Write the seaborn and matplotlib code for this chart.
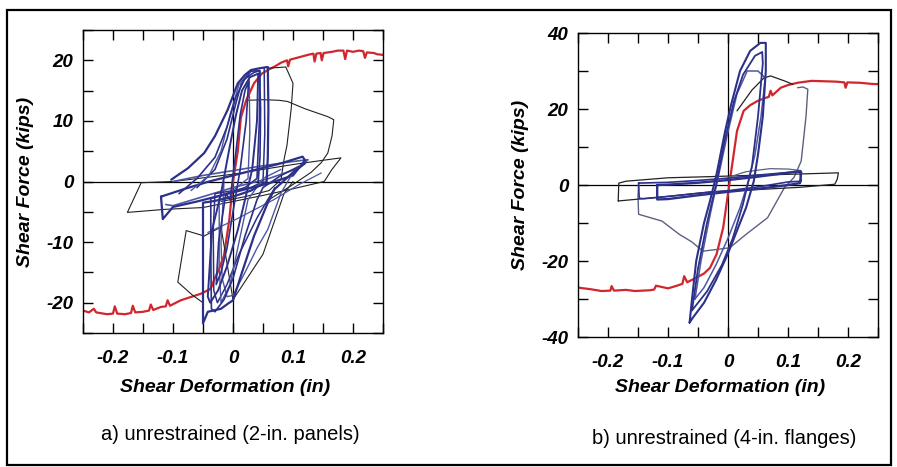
import numpy as np
import pandas as pd
import seaborn as sns
import matplotlib.pyplot as plt
from matplotlib.patches import Rectangle

# ---- panel a: unrestrained (2-in. panels) ----
red_a_x = [-0.25, -0.24, -0.232, -0.228, -0.21, -0.2, -0.197, -0.193, -0.18, -0.17, -0.167, -0.163,
           -0.15, -0.14, -0.137, -0.133, -0.12, -0.112, -0.109, -0.105, -0.087, -0.053, -0.037, -0.031,
           -0.023, -0.015, -0.006, 0.0, 0.008, 0.013, 0.022, 0.035, 0.048, 0.06, 0.07, 0.08, 0.09, 0.092,
           0.095, 0.11, 0.125, 0.134, 0.136, 0.139, 0.146, 0.148, 0.151, 0.165, 0.175, 0.184, 0.187, 0.19,
           0.2, 0.21, 0.217, 0.22, 0.223, 0.235, 0.24, 0.25]
red_a_y = [-21.3, -21.6, -21.0, -21.6, -21.9, -21.8, -20.6, -21.8, -21.9, -21.7, -20.5, -21.6,
           -21.5, -21.3, -20.3, -21.2, -20.7, -20.6, -19.6, -20.5, -19.6, -18.5, -17.7, -16.1,
           -14.4, -12.2, -6.2, 0.0, 5.0, 10.5, 13.4, 16.2, 17.8, 18.5, 19.0, 19.6, 20.0, 19.0,
           20.1, 20.5, 20.9, 21.1, 19.8, 21.1, 21.2, 20.0, 21.2, 21.4, 21.6, 21.6, 20.2, 21.6,
           21.4, 21.6, 21.5, 20.4, 21.3, 21.2, 21.0, 20.9]

a_loop1_x = [-0.005, 0.005, 0.012, 0.02, 0.026, 0.022, 0.012, 0.0, -0.01, -0.02, -0.028, -0.024, -0.012, -0.005]
a_loop1_y = [-3, 5, 11, 15, 16.5, 10, 2, -5, -11, -15, -17, -10, -2, -3]

a_loop2_x = [-0.02, -0.005, 0.005, 0.015, 0.028, 0.042, 0.04, 0.032, 0.02, 0.008, -0.01, -0.025, -0.038, -0.042, -0.035, -0.02]
a_loop2_y = [-2, 6, 11, 15, 17.2, 17.8, 10, 2, -3, -8, -14, -18, -20, -19, -8, -2]

a_loop3_x = [-0.103, -0.075, -0.048, -0.03, -0.009, 0.008, 0.02, 0.03, 0.045, 0.058, 0.059, 0.058, 0.056,
             0.03, 0.0, -0.03, -0.05, -0.05, -0.05, -0.05, -0.042, -0.02, -0.009, 0.0, 0.015, 0.035,
             0.058, 0.069, 0.1, 0.12]
a_loop3_y = [0.3, 2.2, 4.7, 7.5, 11.8, 16.2, 17.6, 18.4, 18.7, 18.9, 12, 4, 0,
             -1.5, -2.5, -3.2, -3.5, -10, -18, -23.4, -21.5, -21, -20.2, -19.6, -15, -9,
             -3.5, -1.3, 1.5, 3]

a_loop4_x = [-0.09, -0.06, -0.03, -0.01, 0.005, 0.02, 0.035, 0.045, 0.044, 0.04, 0.02, -0.01, -0.037,
             -0.037, -0.036, -0.03, -0.015, 0.0, 0.02, 0.04, 0.05, 0.08, 0.11]
a_loop4_y = [-2, 0.5, 4, 9, 14, 17, 18, 18.3, 10, 0.5, -1, -2, -2.8,
             -12, -21, -21.5, -19.5, -16, -9, -3, -1, 1, 2.5]

a_loop5_x = [-0.07, -0.04, -0.02, -0.005, 0.01, 0.027, 0.028, 0.025, 0.0, -0.023, -0.023, -0.02,
             -0.005, 0.01, 0.025, 0.05, 0.08]
a_loop5_y = [-1.5, 1, 5, 11, 16, 17.5, 8, 0.5, -1.5, -2.5, -14, -20, -17, -10, -3, 0.5, 2]

a_loop6_x = [-0.015, -0.02, -0.018, -0.01, 0.0, 0.02, 0.04, 0.058, 0.08, 0.1]
a_loop6_y = [0.0, -10.0, -16.0, -19.0, -18.8, -15.0, -11.0, -7.9, -1.9, 1.5]

a_loop7_x = [-0.06, -0.03, -0.01, 0.005, 0.015, 0.03, 0.044, 0.046, 0.045, 0.042]
a_loop7_y = [-1.0, 2.0, 7.0, 13.0, 16.5, 18.2, 18.3, 12.0, 4.0, 0.0]

a_loop8_x = [0.052, 0.053, 0.05, 0.03, -0.03, -0.033, -0.032, -0.026, -0.01, 0.01, 0.04, 0.07]
a_loop8_y = [18.8, 8.0, 0.0, -1.0, -2.0, -8.0, -18.0, -20.0, -17.0, -12.0, -6.0, -1.0]

a_band_x = [-0.12, -0.08, -0.04, 0.0, 0.04, 0.08, 0.116, 0.12, 0.1, 0.06, 0.02, -0.02, -0.06, -0.1, -0.117, -0.12]
a_band_y = [-2.5, -1.2, 0.0, 1.0, 2.0, 3.0, 4.1, 3.5, 1.0, -0.3, -1.3, -2.3, -3.3, -4.2, -6.2, -2.5]

a_band2_x = [-0.1, -0.05, 0.0, 0.05, 0.1, 0.125, 0.11, 0.06, 0.0, -0.06, -0.1, -0.112]
a_band2_y = [0.0, 1.0, 1.8, 2.6, 3.3, 3.6, 2.2, 0.5, -1.0, -2.8, -4.0, -3.8]

a_peak_x = [0.058, 0.075, 0.088, 0.1, 0.097, 0.09, 0.085, 0.08, 0.06, 0.02, -0.02]
a_peak_y = [18.7, 18.8, 18.9, 16.2, 12, 6, 3.6, 0.3, -1.5, -2.5, -3.3]

a_plateau_x = [0.025, 0.05, 0.077, 0.091, 0.12, 0.158, 0.168, 0.165, 0.158, 0.147, 0.13, 0.1, 0.06]
a_plateau_y = [13.4, 13.5, 13.4, 13.2, 12.0, 10.7, 10.2, 7.5, 4.7, 3.1, 1.5, -0.5, -3]

a_wedge_x = [-0.1, -0.05, 0.0, 0.05, 0.1, 0.15, 0.18, 0.165, 0.152, 0.1, 0.05, 0.0, -0.05, -0.114, -0.176, -0.153, -0.1]
a_wedge_y = [0.0, 0.6, 1.2, 2.0, 2.8, 3.5, 3.9, 2.0, 0.0, -1.2, -2.3, -3.3, -4.3, -4.6, -5.1, -0.2, 0.0]

a_lower_x = [0.1, 0.085, 0.05, 0.0, -0.02, -0.048, -0.078, -0.092, -0.067, -0.05]
a_lower_y = [0.0, -2.0, -12.0, -19.5, -7.5, -9.0, -8.1, -16.6, -18.8, -20.0]

a_diag_x = [-0.042, 0.0, 0.068, 0.11, 0.147]
a_diag_y = [-8.4, -6.5, -3.0, -0.5, 1.4]

# ---- panel b: unrestrained (4-in. flanges) ----
red_b_x = [-0.25, -0.23, -0.211, -0.196, -0.194, -0.19, -0.17, -0.155, -0.13, -0.123, -0.12, -0.1,
           -0.085, -0.076, -0.073, -0.068, -0.053, -0.04, -0.03, -0.019, -0.008, 0.003, 0.015, 0.026,
           0.037, 0.049, 0.06, 0.068, 0.071, 0.074, 0.088, 0.1, 0.116, 0.139, 0.16, 0.18, 0.194, 0.196,
           0.199, 0.22, 0.24, 0.254]
red_b_y = [-27.0, -27.4, -27.9, -27.8, -26.6, -27.8, -27.6, -27.9, -27.7, -27.5, -26.5, -27.2,
           -26.5, -26.0, -24.0, -25.6, -24.4, -23.3, -21.8, -18.2, -11.2, 1.0, 14.2, 19.5,
           21.0, 22.1, 22.8, 23.2, 24.8, 23.6, 25.6, 26.3, 26.9, 27.4, 27.3, 27.2, 27.0, 25.6,
           27.0, 26.9, 26.6, 26.5]

b_loop1_x = [-0.064, -0.06, -0.053, -0.04, -0.03, -0.019, -0.005, 0.005, 0.02, 0.037, 0.054, 0.063, 0.063,
             0.058, 0.05, 0.043, 0.03, 0.015, 0.0, -0.02, -0.04, -0.059, -0.064]
b_loop1_y = [-36.2, -30, -20, -10, -4.2, 2.9, 14, 21, 30, 35.3, 37.4, 37.4, 30,
             18, 8, 1, -6, -12, -18, -25, -31, -35, -36.2]

b_loop2_x = [-0.06, -0.05, -0.035, -0.02, -0.005, 0.01, 0.025, 0.045, 0.057, 0.058, 0.05, 0.04, 0.025,
             0.008, -0.01, -0.035, -0.055, -0.06]
b_loop2_y = [-33, -22, -10, 0, 12, 22, 29, 34, 35, 32, 18, 5, -5, -14, -21, -28, -32, -33]

b_loop3_x = [-0.055, -0.045, -0.03, -0.015, 0.0, 0.015, 0.032, 0.05, 0.06, 0.062, 0.055, 0.045, 0.034,
             0.02, 0.0, -0.02, -0.04, -0.055]
b_loop3_y = [-30, -20, -8, 3, 14, 24, 30, 30, 28.5, 28.2, 18, 8, 1, -6, -14, -21, -27, -30]

b_peak_x = [0.015, 0.04, 0.06, 0.071, 0.094, 0.108]
b_peak_y = [19.5, 25, 28.2, 28.7, 27.4, 26.5]

b_decay_x = [0.116, 0.125, 0.133, 0.13, 0.122, 0.11, 0.094, 0.066, 0.03, 0.003, -0.02, -0.042, -0.06,
             -0.081, -0.11, -0.149, -0.15, -0.149]
b_decay_y = [25.6, 25.8, 25.2, 18, 6.3, 2, -0.7, -8.6, -13, -16.5, -17, -17.4, -15,
             -13, -9.5, -7.7, -3, 0.0]

b_outer_x = [-0.183, -0.182, -0.17, -0.1, -0.03, 0.05, 0.12, 0.184, 0.182, 0.178, 0.12, 0.05, -0.03, -0.1, -0.183]
b_outer_y = [-4.2, 0.5, 1.0, 1.9, 2.2, 2.6, 2.9, 3.2, 1.5, 0.2, -0.6, -1.2, -1.8, -3.0, -4.2]

b_top_x = [0.0, 0.03, 0.07, 0.1, 0.122]
b_top_y = [2.0, 3.5, 4.3, 4.2, 3.8]

b_mid_x = [-0.149, -0.148, -0.14, -0.1, -0.05, 0.0, 0.05, 0.1, 0.122, 0.12, 0.1, 0.05, 0.0, -0.05, -0.1, -0.149]
b_mid_y = [0.5, -3.5, -3.6, -3.0, -2.2, -1.5, -0.5, 0.8, 1.0, 3.7, 3.3, 2.6, 1.8, 1.2, 0.7, 0.5]

b_inner_x = [-0.118, -0.118, -0.1, -0.05, 0.0, 0.05, 0.1, 0.12, 0.122, 0.115, 0.08, 0.04, 0.0, -0.05, -0.1, -0.118]
b_inner_y = [0.0, -3.8, -3.7, -2.7, -1.8, -1.0, 0.0, 0.5, 3.4, 3.5, 2.8, 2.0, 1.3, 0.6, 0.1, 0.0]

x_ticks = [-0.25, -0.2, -0.15, -0.1, -0.05, 0.0, 0.05, 0.1, 0.15, 0.2, 0.25]
x_labels = ['', '-0.2', '', '-0.1', '', '0', '', '0.1', '', '0.2', '']
a_yticks = [-25, -20, -15, -10, -5, 0, 5, 10, 15, 20, 25]
a_ylabels = ['', '-20', '', '-10', '', '0', '', '10', '', '20', '']
b_yticks = [-40, -30, -20, -10, 0, 10, 20, 30, 40]
b_ylabels = ['-40', '', '-20', '', '0', '', '20', '', '40']

NAVY = '#2c3089'
BLUE = '#4d57a3'
GREY = '#5c6080'
DARK = '#222222'
RED = '#d1262d'

sns.set_theme(style='ticks')
plt.rcParams['font.family'] = ['Liberation Sans', 'DejaVu Sans']
plt.rcParams['text.color'] = 'black'
plt.rcParams['xtick.color'] = 'black'
plt.rcParams['ytick.color'] = 'black'

fig = plt.figure(figsize=(8.97, 4.67), dpi=100)
fig.patch.set_facecolor('white')
W, H = 897, 467


def px_axes(l, t, r, b):
    return fig.add_axes([l / W, 1 - b / H, (r - l) / W, (b - t) / H])


def trace(ax, xs, ys, color, lw):
    sns.lineplot(x=xs, y=ys, sort=False, estimator=None, color=color, lw=lw, ax=ax)


def style(ax, ylim, yticks, ylabels):
    ax.set_xlim(-0.25, 0.25)
    ax.set_ylim(*ylim)
    ax.axhline(0, color='black', lw=0.9, zorder=1)
    ax.axvline(0, color='black', lw=0.9, zorder=1)
    ax.set_xticks(x_ticks)
    ax.set_xticklabels(x_labels)
    ax.set_yticks(yticks)
    ax.set_yticklabels(ylabels)
    ax.tick_params(direction='in', length=7, width=1.0, top=True, right=True,
                   color='black', labelcolor='black')
    ax.tick_params(axis='x', pad=12, labelsize=13.5)
    ax.tick_params(axis='y', pad=7, labelsize=13.5)
    for lab in ax.get_xticklabels() + ax.get_yticklabels():
        lab.set_fontweight('bold')
        lab.set_fontstyle('italic')
    for sp in ax.spines.values():
        sp.set_color('black')
        sp.set_linewidth(1.0)
    ax.set_xlabel('')
    ax.set_ylabel('')


# panel a
ax1 = px_axes(83, 30, 383, 333)
trace(ax1, red_a_x, red_a_y, RED, 1.6)
trace(ax1, a_plateau_x, a_plateau_y, DARK, 0.8)
trace(ax1, a_peak_x, a_peak_y, DARK, 0.8)
trace(ax1, a_wedge_x, a_wedge_y, DARK, 0.8)
trace(ax1, a_lower_x, a_lower_y, DARK, 0.8)
trace(ax1, a_diag_x, a_diag_y, BLUE, 0.9)
trace(ax1, a_band2_x, a_band2_y, BLUE, 1.2)
trace(ax1, a_band_x, a_band_y, NAVY, 1.6)
trace(ax1, a_loop6_x, a_loop6_y, BLUE, 1.0)
trace(ax1, a_loop8_x, a_loop8_y, NAVY, 1.1)
trace(ax1, a_loop7_x, a_loop7_y, NAVY, 1.2)
trace(ax1, a_loop5_x, a_loop5_y, BLUE, 1.0)
trace(ax1, a_loop4_x, a_loop4_y, NAVY, 1.2)
trace(ax1, a_loop3_x, a_loop3_y, NAVY, 1.6)
trace(ax1, a_loop2_x, a_loop2_y, NAVY, 1.4)
trace(ax1, a_loop1_x, a_loop1_y, NAVY, 1.2)
style(ax1, (-25, 25), a_yticks, a_ylabels)

# panel b
ax2 = px_axes(578, 33, 878, 337)
trace(ax2, red_b_x, red_b_y, RED, 1.6)
trace(ax2, b_decay_x, b_decay_y, GREY, 1.0)
trace(ax2, b_peak_x, b_peak_y, DARK, 0.9)
trace(ax2, b_outer_x, b_outer_y, DARK, 0.9)
trace(ax2, b_top_x, b_top_y, GREY, 0.9)
trace(ax2, b_mid_x, b_mid_y, NAVY, 1.2)
trace(ax2, b_inner_x, b_inner_y, NAVY, 1.7)
trace(ax2, b_loop3_x, b_loop3_y, BLUE, 1.1)
trace(ax2, b_loop2_x, b_loop2_y, NAVY, 1.3)
trace(ax2, b_loop1_x, b_loop1_y, NAVY, 1.5)
style(ax2, (-40, 40), b_yticks, b_ylabels)

lab_kw = dict(fontsize=14, fontweight='bold', fontstyle='italic', ha='center', va='center', color='black')
fig.text(225 / W, 1 - 387 / H, 'Shear Deformation (in)', **lab_kw)
fig.text(720 / W, 1 - 387 / H, 'Shear Deformation (in)', **lab_kw)
fig.text(25 / W, 1 - 182 / H, 'Shear Force (kips)', rotation=90, **lab_kw)
fig.text(520 / W, 1 - 185 / H, 'Shear Force (kips)', rotation=90, **lab_kw)

cap_kw = dict(fontsize=14.5, ha='center', va='center', color='black')
fig.text(230 / W, 1 - 435 / H, 'a) unrestrained (2-in. panels)', **cap_kw)
fig.text(724 / W, 1 - 438 / H, 'b) unrestrained (4-in. flanges)', **cap_kw)

fig.patches.append(Rectangle((7 / W, 1 - 465 / H), 884 / W, 455 / H, transform=fig.transFigure,
                             fill=False, ec='black', lw=1.6))

plt.savefig('out.png', dpi=100, facecolor='white')
